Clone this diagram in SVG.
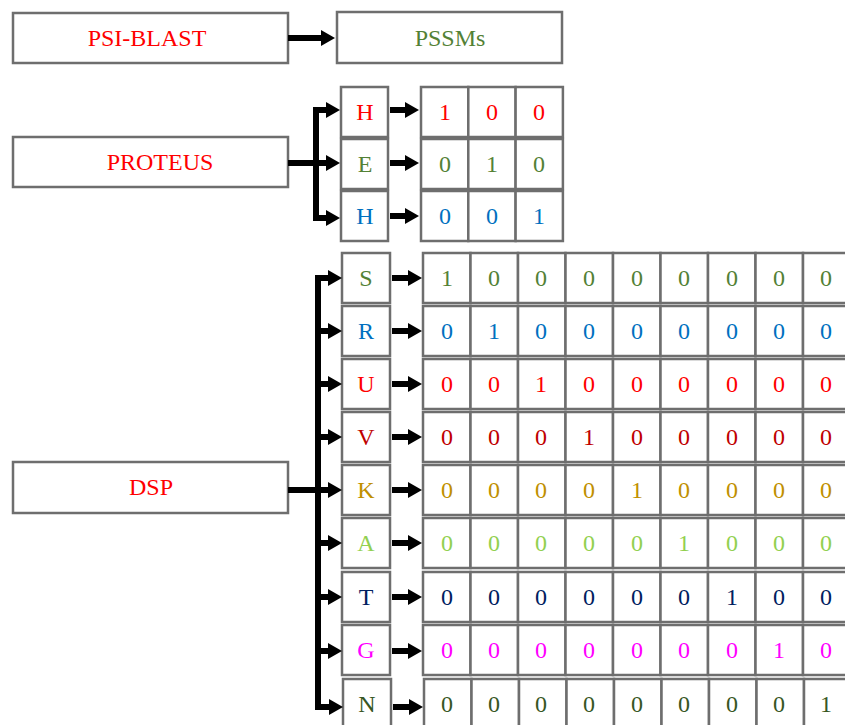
<svg xmlns="http://www.w3.org/2000/svg" width="845" height="725" viewBox="0 0 845 725">
<defs>
<marker id="ah" viewBox="0 0 14 16" markerWidth="14" markerHeight="16" refX="0" refY="8" orient="auto" markerUnits="userSpaceOnUse"><path d="M0,0 L14,8 L0,16 z" fill="#000"/></marker>
</defs>
<style>
rect{fill:#fff;stroke:#6e6e6e;stroke-width:2.5}
text{font-family:"Liberation Serif","Times New Roman",serif;font-size:24px;text-anchor:middle}
.c line{stroke:#000;stroke-width:6;fill:none}
.a{marker-end:url(#ah)}
.red{fill:#ff0000}.grn{fill:#538135}.blu{fill:#0070c0}.drd{fill:#c00000}.gld{fill:#bf9000}.lgr{fill:#92d050}.nav{fill:#002060}.mag{fill:#ff00ff}.dgr{fill:#375623}
</style>
<rect width="845" height="725" style="fill:#fff;stroke:none"/>
<g id="psiblast"><rect x="13" y="13" width="275" height="50"/><text x="147" y="46" class="red">PSI-BLAST</text></g>
<g id="pssms"><rect x="337" y="12" width="225" height="51"/><text x="450" y="46" class="grn">PSSMs</text></g>
<g id="proteus"><rect x="13" y="137" width="275" height="50"/><text x="160" y="170" class="red">PROTEUS</text></g>
<g id="dsp"><rect x="13" y="462" width="275" height="51"/><text x="151" y="495" class="red">DSP</text></g>

<g id="proteus-H1"><rect x="341" y="87" width="47" height="50"/><text x="365" y="120" class="red">H</text>
<rect x="421" y="87" width="47.3" height="50"/><rect x="468.3" y="87" width="47.3" height="50"/><rect x="515.6" y="87" width="47.3" height="50"/>
<text x="445" y="120" class="red">1</text><text x="492" y="120" class="red">0</text><text x="539" y="120" class="red">0</text></g>
<g id="proteus-E"><rect x="341" y="139" width="47" height="50"/><text x="365" y="172" class="grn">E</text>
<rect x="421" y="139" width="47.3" height="50"/><rect x="468.3" y="139" width="47.3" height="50"/><rect x="515.6" y="139" width="47.3" height="50"/>
<text x="445" y="172" class="grn">0</text><text x="492" y="172" class="grn">1</text><text x="539" y="172" class="grn">0</text></g>
<g id="proteus-H2"><rect x="341" y="191" width="47" height="50"/><text x="365" y="224" class="blu">H</text>
<rect x="421" y="191" width="47.3" height="50"/><rect x="468.3" y="191" width="47.3" height="50"/><rect x="515.6" y="191" width="47.3" height="50"/>
<text x="445" y="224" class="blu">0</text><text x="492" y="224" class="blu">0</text><text x="539" y="224" class="blu">1</text></g>

<g id="dsp-S"><rect x="342" y="253" width="48" height="50"/><text x="366" y="286" class="grn">S</text>
<rect x="423" y="253" width="47.5" height="50"/><rect x="470.5" y="253" width="47.5" height="50"/><rect x="518" y="253" width="47.5" height="50"/><rect x="565.5" y="253" width="47.5" height="50"/><rect x="613" y="253" width="47.5" height="50"/><rect x="660.5" y="253" width="47.5" height="50"/><rect x="708" y="253" width="47.5" height="50"/><rect x="755.5" y="253" width="47.5" height="50"/><rect x="803" y="253" width="47.5" height="50"/>
<text x="447" y="286" class="grn">1</text><text x="494" y="286" class="grn">0</text><text x="541" y="286" class="grn">0</text><text x="589" y="286" class="grn">0</text><text x="637" y="286" class="grn">0</text><text x="684" y="286" class="grn">0</text><text x="732" y="286" class="grn">0</text><text x="779" y="286" class="grn">0</text><text x="826" y="286" class="grn">0</text></g>
<g id="dsp-R"><rect x="342" y="306" width="48" height="50"/><text x="366" y="339" class="blu">R</text>
<rect x="423" y="306" width="47.5" height="50"/><rect x="470.5" y="306" width="47.5" height="50"/><rect x="518" y="306" width="47.5" height="50"/><rect x="565.5" y="306" width="47.5" height="50"/><rect x="613" y="306" width="47.5" height="50"/><rect x="660.5" y="306" width="47.5" height="50"/><rect x="708" y="306" width="47.5" height="50"/><rect x="755.5" y="306" width="47.5" height="50"/><rect x="803" y="306" width="47.5" height="50"/>
<text x="447" y="339" class="blu">0</text><text x="494" y="339" class="blu">1</text><text x="541" y="339" class="blu">0</text><text x="589" y="339" class="blu">0</text><text x="637" y="339" class="blu">0</text><text x="684" y="339" class="blu">0</text><text x="732" y="339" class="blu">0</text><text x="779" y="339" class="blu">0</text><text x="826" y="339" class="blu">0</text></g>
<g id="dsp-U"><rect x="342" y="359" width="48" height="50"/><text x="366" y="392" class="red">U</text>
<rect x="423" y="359" width="47.5" height="50"/><rect x="470.5" y="359" width="47.5" height="50"/><rect x="518" y="359" width="47.5" height="50"/><rect x="565.5" y="359" width="47.5" height="50"/><rect x="613" y="359" width="47.5" height="50"/><rect x="660.5" y="359" width="47.5" height="50"/><rect x="708" y="359" width="47.5" height="50"/><rect x="755.5" y="359" width="47.5" height="50"/><rect x="803" y="359" width="47.5" height="50"/>
<text x="447" y="392" class="red">0</text><text x="494" y="392" class="red">0</text><text x="541" y="392" class="red">1</text><text x="589" y="392" class="red">0</text><text x="637" y="392" class="red">0</text><text x="684" y="392" class="red">0</text><text x="732" y="392" class="red">0</text><text x="779" y="392" class="red">0</text><text x="826" y="392" class="red">0</text></g>
<g id="dsp-V"><rect x="342" y="412" width="48" height="50"/><text x="366" y="445" class="drd">V</text>
<rect x="423" y="412" width="47.5" height="50"/><rect x="470.5" y="412" width="47.5" height="50"/><rect x="518" y="412" width="47.5" height="50"/><rect x="565.5" y="412" width="47.5" height="50"/><rect x="613" y="412" width="47.5" height="50"/><rect x="660.5" y="412" width="47.5" height="50"/><rect x="708" y="412" width="47.5" height="50"/><rect x="755.5" y="412" width="47.5" height="50"/><rect x="803" y="412" width="47.5" height="50"/>
<text x="447" y="445" class="drd">0</text><text x="494" y="445" class="drd">0</text><text x="541" y="445" class="drd">0</text><text x="589" y="445" class="drd">1</text><text x="637" y="445" class="drd">0</text><text x="684" y="445" class="drd">0</text><text x="732" y="445" class="drd">0</text><text x="779" y="445" class="drd">0</text><text x="826" y="445" class="drd">0</text></g>
<g id="dsp-K"><rect x="342" y="465" width="48" height="50"/><text x="366" y="498" class="gld">K</text>
<rect x="423" y="465" width="47.5" height="50"/><rect x="470.5" y="465" width="47.5" height="50"/><rect x="518" y="465" width="47.5" height="50"/><rect x="565.5" y="465" width="47.5" height="50"/><rect x="613" y="465" width="47.5" height="50"/><rect x="660.5" y="465" width="47.5" height="50"/><rect x="708" y="465" width="47.5" height="50"/><rect x="755.5" y="465" width="47.5" height="50"/><rect x="803" y="465" width="47.5" height="50"/>
<text x="447" y="498" class="gld">0</text><text x="494" y="498" class="gld">0</text><text x="541" y="498" class="gld">0</text><text x="589" y="498" class="gld">0</text><text x="637" y="498" class="gld">1</text><text x="684" y="498" class="gld">0</text><text x="732" y="498" class="gld">0</text><text x="779" y="498" class="gld">0</text><text x="826" y="498" class="gld">0</text></g>
<g id="dsp-A"><rect x="342" y="518" width="48" height="50"/><text x="366" y="551" class="lgr">A</text>
<rect x="423" y="518" width="47.5" height="50"/><rect x="470.5" y="518" width="47.5" height="50"/><rect x="518" y="518" width="47.5" height="50"/><rect x="565.5" y="518" width="47.5" height="50"/><rect x="613" y="518" width="47.5" height="50"/><rect x="660.5" y="518" width="47.5" height="50"/><rect x="708" y="518" width="47.5" height="50"/><rect x="755.5" y="518" width="47.5" height="50"/><rect x="803" y="518" width="47.5" height="50"/>
<text x="447" y="551" class="lgr">0</text><text x="494" y="551" class="lgr">0</text><text x="541" y="551" class="lgr">0</text><text x="589" y="551" class="lgr">0</text><text x="637" y="551" class="lgr">0</text><text x="684" y="551" class="lgr">1</text><text x="732" y="551" class="lgr">0</text><text x="779" y="551" class="lgr">0</text><text x="826" y="551" class="lgr">0</text></g>
<g id="dsp-T"><rect x="342" y="572" width="48" height="50"/><text x="366" y="605" class="nav">T</text>
<rect x="423" y="572" width="47.5" height="50"/><rect x="470.5" y="572" width="47.5" height="50"/><rect x="518" y="572" width="47.5" height="50"/><rect x="565.5" y="572" width="47.5" height="50"/><rect x="613" y="572" width="47.5" height="50"/><rect x="660.5" y="572" width="47.5" height="50"/><rect x="708" y="572" width="47.5" height="50"/><rect x="755.5" y="572" width="47.5" height="50"/><rect x="803" y="572" width="47.5" height="50"/>
<text x="447" y="605" class="nav">0</text><text x="494" y="605" class="nav">0</text><text x="541" y="605" class="nav">0</text><text x="589" y="605" class="nav">0</text><text x="637" y="605" class="nav">0</text><text x="684" y="605" class="nav">0</text><text x="732" y="605" class="nav">1</text><text x="779" y="605" class="nav">0</text><text x="826" y="605" class="nav">0</text></g>
<g id="dsp-G"><rect x="342" y="625" width="48" height="50"/><text x="366" y="658" class="mag">G</text>
<rect x="423" y="625" width="47.5" height="50"/><rect x="470.5" y="625" width="47.5" height="50"/><rect x="518" y="625" width="47.5" height="50"/><rect x="565.5" y="625" width="47.5" height="50"/><rect x="613" y="625" width="47.5" height="50"/><rect x="660.5" y="625" width="47.5" height="50"/><rect x="708" y="625" width="47.5" height="50"/><rect x="755.5" y="625" width="47.5" height="50"/><rect x="803" y="625" width="47.5" height="50"/>
<text x="447" y="658" class="mag">0</text><text x="494" y="658" class="mag">0</text><text x="541" y="658" class="mag">0</text><text x="589" y="658" class="mag">0</text><text x="637" y="658" class="mag">0</text><text x="684" y="658" class="mag">0</text><text x="732" y="658" class="mag">0</text><text x="779" y="658" class="mag">1</text><text x="826" y="658" class="mag">0</text></g>
<g id="dsp-N"><rect x="343" y="679" width="48" height="50"/><text x="367" y="712" class="dgr">N</text>
<rect x="424" y="679" width="47.5" height="50"/><rect x="471.5" y="679" width="47.5" height="50"/><rect x="519" y="679" width="47.5" height="50"/><rect x="566.5" y="679" width="47.5" height="50"/><rect x="614" y="679" width="47.5" height="50"/><rect x="661.5" y="679" width="47.5" height="50"/><rect x="709" y="679" width="47.5" height="50"/><rect x="756.5" y="679" width="47.5" height="50"/><rect x="804" y="679" width="47.5" height="50"/>
<text x="447" y="712" class="dgr">0</text><text x="494" y="712" class="dgr">0</text><text x="541" y="712" class="dgr">0</text><text x="589" y="712" class="dgr">0</text><text x="637" y="712" class="dgr">0</text><text x="684" y="712" class="dgr">0</text><text x="732" y="712" class="dgr">0</text><text x="779" y="712" class="dgr">0</text><text x="826" y="712" class="dgr">1</text></g>

<g id="connectors" class="c">
<line class="a" x1="288" y1="38" x2="321" y2="38"/>
<line x1="288" y1="163" x2="319" y2="163"/>
<line x1="316" y1="107" x2="316" y2="221"/>
<line class="a" x1="313" y1="110" x2="326" y2="110"/>
<line class="a" x1="313" y1="163" x2="326" y2="163"/>
<line class="a" x1="313" y1="218" x2="326" y2="218"/>
<line class="a" x1="390" y1="110" x2="405" y2="110"/>
<line class="a" x1="390" y1="163" x2="405" y2="163"/>
<line class="a" x1="390" y1="216" x2="405" y2="216"/>
<line x1="288" y1="490" x2="321" y2="490"/>
<line x1="318" y1="275" x2="318" y2="710"/>
<line class="a" x1="315" y1="278" x2="328" y2="278"/>
<line class="a" x1="315" y1="331" x2="328" y2="331"/>
<line class="a" x1="315" y1="384" x2="328" y2="384"/>
<line class="a" x1="315" y1="437" x2="328" y2="437"/>
<line class="a" x1="315" y1="490" x2="328" y2="490"/>
<line class="a" x1="315" y1="543" x2="328" y2="543"/>
<line class="a" x1="315" y1="597" x2="328" y2="597"/>
<line class="a" x1="315" y1="651" x2="328" y2="651"/>
<line class="a" x1="315" y1="707" x2="329" y2="707"/>
<line class="a" x1="392" y1="278" x2="408" y2="278"/>
<line class="a" x1="392" y1="331" x2="408" y2="331"/>
<line class="a" x1="392" y1="384" x2="408" y2="384"/>
<line class="a" x1="392" y1="437" x2="408" y2="437"/>
<line class="a" x1="392" y1="490" x2="408" y2="490"/>
<line class="a" x1="392" y1="543" x2="408" y2="543"/>
<line class="a" x1="392" y1="597" x2="408" y2="597"/>
<line class="a" x1="392" y1="651" x2="408" y2="651"/>
<line class="a" x1="393" y1="707" x2="409" y2="707"/>
</g>
</svg>
